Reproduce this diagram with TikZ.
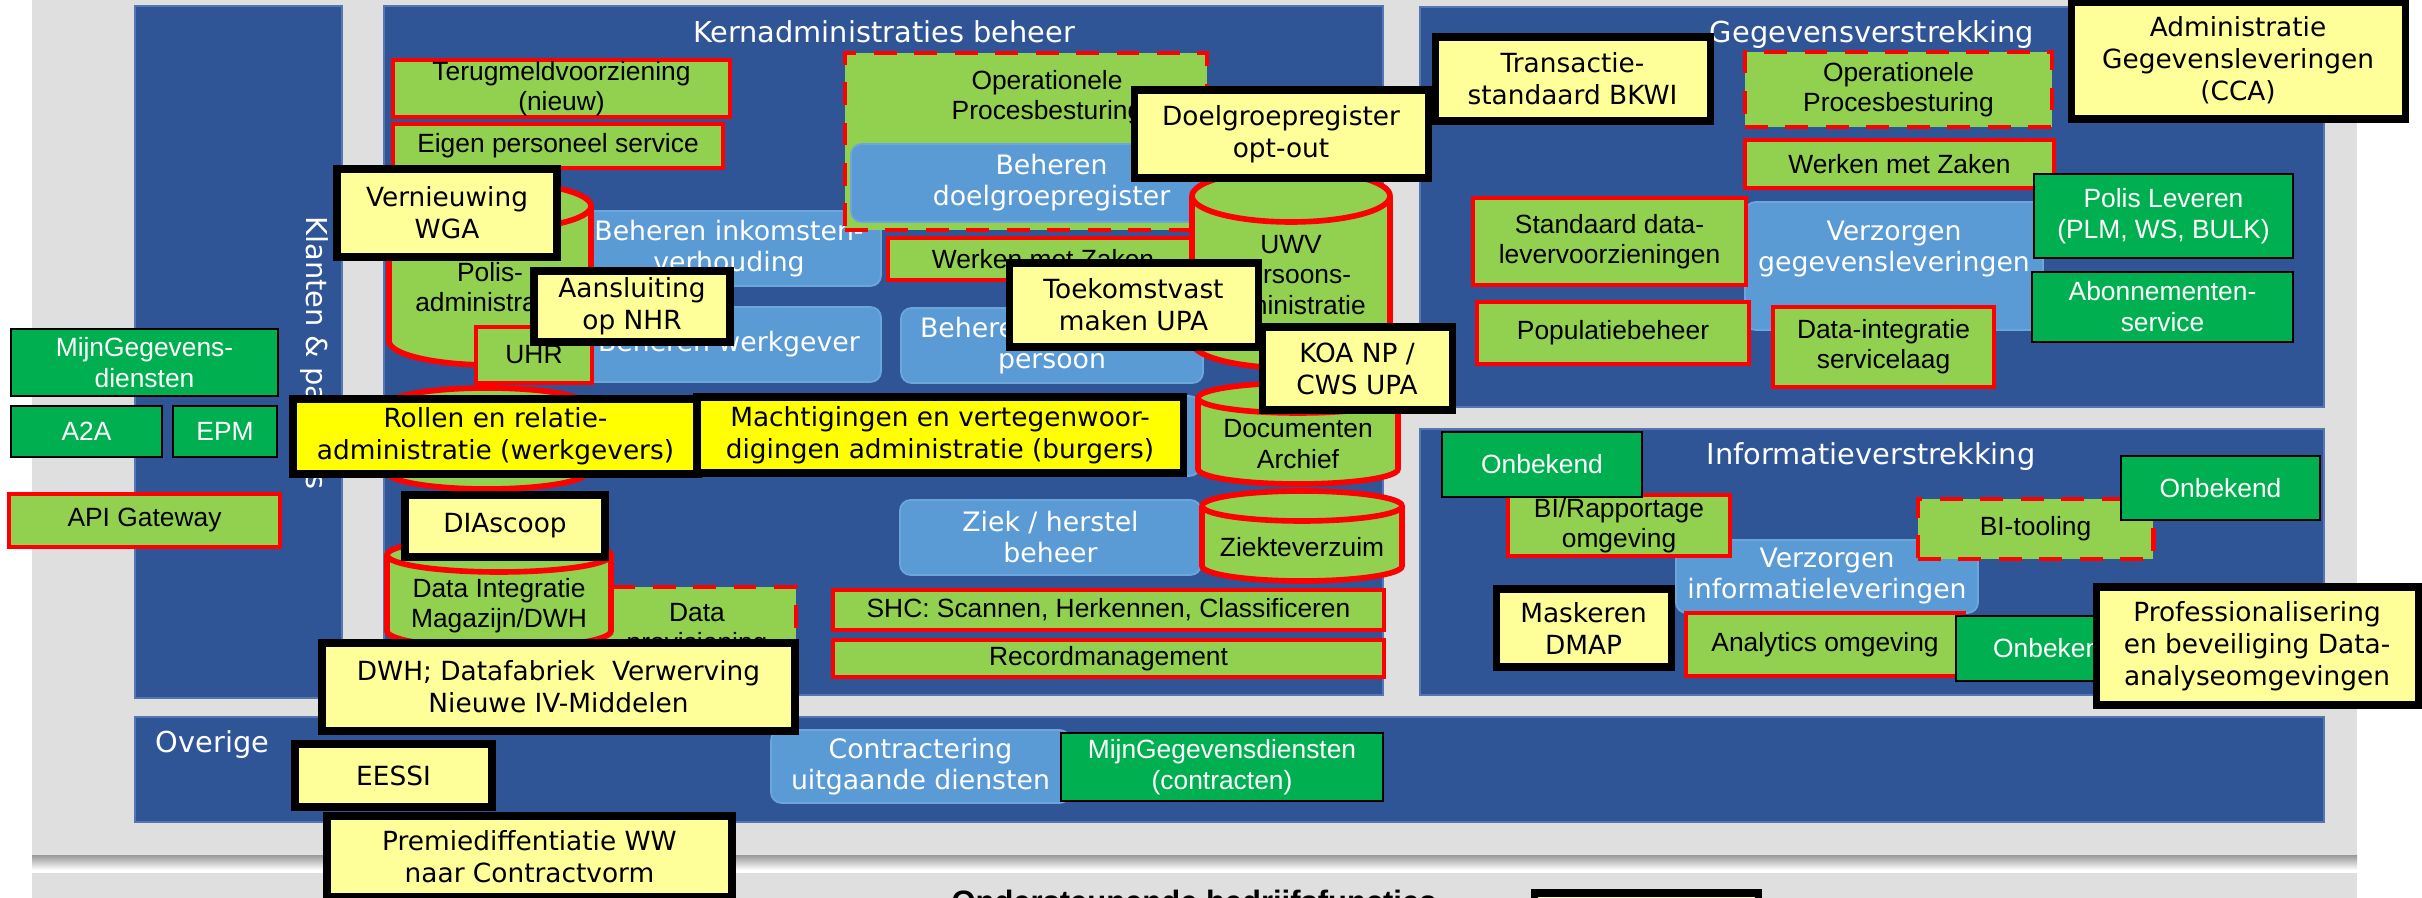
\documentclass[tikz,border=0pt]{standalone}
\usepackage{fontspec}
\newfontfamily\vfont{DejaVu Sans}
\newfontfamily\afont{Liberation Sans}

\definecolor{cGrijs}{HTML}{DFDFDF}
\definecolor{cPaneel}{HTML}{2F5597}
\definecolor{cPaneelrand}{HTML}{5676B3}
\definecolor{cLichtblauw}{HTML}{5B9BD5}
\definecolor{cLichtrand}{HTML}{6CA6DA}
\definecolor{cGroen}{HTML}{92D050}
\definecolor{cDonkergroen}{HTML}{00B050}
\definecolor{cGeel}{HTML}{FFFF99}
\definecolor{cFelgeel}{HTML}{FFFF00}
\definecolor{cRood}{HTML}{FF0000}

\tikzset{
  paneel/.style={fill=cPaneel, draw=cPaneelrand, line width=0.8pt},
  kop/.style={text=white, font=\vfont\fontsize{8.2}{10}\selectfont, inner sep=0pt, anchor=base},
  doos/.style={rectangle, inner sep=0pt, outer sep=0pt, align=center},
  groenblok/.style={doos, fill=cGroen, draw=cRood, line width=1.4pt, font=\afont\fontsize{7.5}{8.6}\selectfont},
  stipblok/.style={groenblok, dash pattern=on 6.5pt off 5pt},
  groentekst/.style={align=center, inner sep=0pt, font=\afont\fontsize{7.5}{8.6}\selectfont},
  donkerblok/.style={doos, fill=cDonkergroen, draw=black, line width=0.4pt, text=white, font=\afont\fontsize{7.5}{8.8}\selectfont},
  blauwblok/.style={doos, rounded corners=3pt, fill=cLichtblauw, draw=cLichtrand, line width=0.5pt, text=white, font=\vfont\fontsize{7.6}{8.8}\selectfont},
  blauwtekst/.style={align=center, inner sep=0pt, text=white, font=\vfont\fontsize{7.6}{8.8}\selectfont},
  geelblok/.style={doos, fill=cGeel, draw=black, line width=2pt, font=\vfont\fontsize{7.5}{9.1}\selectfont},
  felgeelblok/.style={geelblok, fill=cFelgeel},
  cilinderrand/.style={fill=cGroen, draw=cRood, line width=1.6pt},
}

% box from its corners (picture units are pixels)
\newcommand{\blok}[7]{%
  \node[#1, minimum width={(#5-#3)*0.01cm}, minimum height={(#6-#4)*0.01cm}] (#2) at ({(#3+#5)/2},{(#4+#6)/2}) {#7};}

% cylinder: name, x1, y1, x2, y2, ry, text y, text
\newcommand{\cilinder}[8]{%
  \filldraw[cilinderrand] ({#2},{#3+#6}) -- ({#2},{#5-#6})
    arc[start angle=180, end angle=360, x radius={(#4-#2)/2*0.01cm}, y radius={#6*0.01cm}]
    -- ({#4},{#3+#6})
    arc[start angle=0, end angle=180, x radius={(#4-#2)/2*0.01cm}, y radius={#6*0.01cm}] -- cycle;
  \draw[cilinderrand, fill=none] ({#2},{#3+#6})
    arc[start angle=180, end angle=360, x radius={(#4-#2)/2*0.01cm}, y radius={#6*0.01cm}];
  \node[groentekst] (#1) at ({(#2+#4)/2},{#7}) {#8};}

\begin{document}
\begin{tikzpicture}[x=0.01cm, y=-0.01cm]
  \useasboundingbox (0,0) rectangle (2422,898);
  \clip (0,0) rectangle (2422,898);
  \fill[white] (0,0) rectangle (2422,898);

  % achtergrond
  \fill[cGrijs] (32,-20) rectangle (2357,855);
  \shade[top color=black!40, bottom color=white] (32,855) rectangle (2357,870);
  \fill[cGrijs] (32,873) rectangle (2357,960);

  % panelen
  \filldraw[paneel] (135,6) rectangle (342,698);
  \filldraw[paneel] (384,6) rectangle (1383,695);
  \filldraw[paneel] (1420,7) rectangle (2324,407);
  \filldraw[paneel] (1420,429) rectangle (2324,695);
  \filldraw[paneel] (135,717) rectangle (2324,822);

  % koppen
  \node[kop] (kopkern) at (884,43) {Kernadministraties beheer};
  \node[kop] (kopgeg) at (1872,43) {Gegevensverstrekking};
  \node[kop] (kopinfo) at (1871,465) {Informatieverstrekking};
  \node[kop, anchor=base west] (kopoverige) at (155,753) {Overige};
  \node[kop, anchor=center, rotate=-90] (kopklanten) at (314,353) {Klanten \& partners};

  % links buiten de panelen
  \blok{donkerblok}{mijngeg}{11}{329}{278}{396}{MijnGegevens-\\diensten}
  \blok{donkerblok}{atwee}{11}{406}{162}{457}{A2A}
  \blok{donkerblok}{epm}{173}{406}{277}{457}{EPM}
  \blok{groenblok}{api}{9}{494}{280}{547}{API Gateway}

  % kernadministraties beheer
  \blok{blauwblok}{behinkomsten}{577}{211}{881}{286}{Beheren inkomsten-\\verhouding}
  \blok{blauwblok}{behwerkgever}{577}{307}{881}{382}{Beheren werkgever}
  \blok{blauwblok}{behpersoon}{901}{308}{1203}{383}{\makebox[75pt][l]{Beheren}\\persoon}
  \blok{blauwblok}{behverborgen}{901}{396}{1200}{476}{}
  \blok{blauwblok}{ziekherstel}{900}{500}{1201}{575}{Ziek / herstel\\beheer}
  \blok{stipblok}{opbkern}{845}{53}{1207}{230}{}
  \node[groentekst] (opbkerntekst) at (1047,98) {Operationele\\Procesbesturing};
  \blok{blauwblok}{behdoelgroep}{851}{144}{1252}{222}{Beheren\\doelgroepregister}
  \blok{groenblok}{werkenkern}{888}{238}{1198}{280}{Werken met Zaken}
  \blok{groenblok}{terugmeld}{393}{60}{730}{117}{Terugmeldvoorziening\\(nieuw)}
  \blok{groenblok}{eigen}{393}{124}{723}{168}{Eigen personeel service}
  \blok{stipblok}{dataprov}{598}{587}{796}{673}{Data\\provisioning}
  \cilinder{polis}{389}{182}{591}{365}{24}{287}{Polis-\\administratie}
  \cilinder{verborgen}{387}{388}{587}{489}{17}{440}{}
  \cilinder{uwv}{1192}{170}{1390}{368}{26}{275}{UWV\\Persoons-\\administratie}
  \cilinder{documenten}{1198}{383}{1398}{484}{15}{444}{Documenten\\Archief}
  \cilinder{ziekteverzuim}{1202}{491}{1402}{581}{15}{547}{Ziekteverzuim}
  \cilinder{dim}{387}{538}{611}{648}{17}{606}{Data Integratie\\Magazijn/DWH}
  \blok{groenblok}{uhr}{476}{327}{592}{383}{UHR}
  \blok{groenblok}{shc}{833}{590}{1384}{630}{SHC: Scannen, Herkennen, Classificeren}
  \blok{groenblok}{record}{833}{640}{1384}{677}{Recordmanagement}

  % gegevensverstrekking
  \blok{stipblok}{opbgeg}{1745}{52}{2052}{127}{Operationele\\Procesbesturing}
  \blok{groenblok}{werkengeg}{1745}{140}{2054}{188}{Werken met Zaken}
  \blok{blauwblok}{verzorgengeg}{1745}{202}{2043}{330}{}
  \node[blauwtekst] (verzorgengegtekst) at (1894,249) {Verzorgen\\gegevensleveringen};
  \blok{groenblok}{standaard}{1473}{198}{1746}{285}{Standaard data-\\levervoorzieningen}
  \blok{groenblok}{populatie}{1477}{302}{1749}{364}{Populatiebeheer}
  \blok{groenblok}{dataint}{1773}{307}{1994}{387}{Data-integratie\\servicelaag}
  \blok{donkerblok}{polisleveren}{2034}{174}{2293}{258}{Polis Leveren\\(PLM, WS, BULK)}
  \blok{donkerblok}{abonnementen}{2032}{272}{2293}{342}{Abonnementen-\\service}

  % informatieverstrekking
  \blok{blauwblok}{verzorgeninfo}{1676}{540}{1978}{613}{Verzorgen\\informatieleveringen}
  \blok{groenblok}{birapport}{1508}{495}{1730}{556}{BI/Rapportage\\omgeving}
  \blok{donkerblok}{onbekendeen}{1442}{432}{1642}{497}{Onbekend}
  \blok{groenblok}{analytics}{1686}{613}{1964}{676}{Analytics omgeving}
  \blok{donkerblok}{onbekendtwee}{1956}{616}{2152}{681}{Onbekend}
  \blok{stipblok}{bitooling}{1918}{499}{2153}{559}{BI-tooling}
  \blok{donkerblok}{onbekenddrie}{2121}{456}{2320}{520}{Onbekend}

  % overige
  \blok{blauwblok}{contractering}{771}{730}{1070}{803}{Contractering\\uitgaande diensten}
  \blok{donkerblok}{mijngegcontract}{1061}{733}{1383}{801}{MijnGegevensdiensten\\(contracten)}

  % gele projecten
  \blok{geelblok}{vernieuwing}{337}{169}{557}{257}{Vernieuwing\\WGA}
  \blok{geelblok}{aansluiting}{534}{271}{730}{342}{Aansluiting\\op NHR}
  \blok{geelblok}{doelgroepoptout}{1134}{90}{1428}{178}{Doelgroepregister\\opt-out}
  \blok{geelblok}{toekomstvast}{1009}{263}{1258}{347}{Toekomstvast\\maken UPA}
  \blok{geelblok}{koa}{1262}{327}{1452}{410}{KOA NP /\\CWS UPA}
  \blok{felgeelblok}{rollen}{293}{399}{698}{474}{Rollen en relatie-\\administratie (werkgevers)}
  \blok{felgeelblok}{machtigingen}{697}{397}{1183}{473}{Machtigingen en vertegenwoor-\\digingen administratie (burgers)}
  \blok{geelblok}{diascoop}{405}{495}{605}{557}{DIAscoop}
  \blok{geelblok}{dwh}{322}{643}{795}{731}{DWH; Datafabriek~~Verwerving\\Nieuwe IV-Middelen}
  \blok{geelblok}{eessi}{295}{744}{492}{807}{EESSI}
  \blok{geelblok}{premie}{327}{816}{732}{897}{Premiediffentiatie WW\\naar Contractvorm}
  \blok{geelblok}{transactie}{1435}{37}{1710}{121}{Transactie-\\standaard BKWI}
  \blok{geelblok}{cca}{2071}{2}{2405}{119}{Administratie\\Gegevensleveringen\\(CCA)}
  \blok{geelblok}{maskeren}{1496}{589}{1671}{667}{Maskeren\\DMAP}
  \blok{geelblok}{prof}{2096}{587}{2418}{705}{Professionalisering\\en beveiliging Data-\\analyseomgevingen}

  % ondersteunende bedrijfsfuncties
  \node[anchor=base, inner sep=0pt, font=\afont\bfseries\fontsize{8.8}{10}\selectfont] (ondersteunend) at (1194,912) {Ondersteunende bedrijfsfuncties};
  \blok{geelblok}{onderblok}{1534}{893}{1758}{970}{}
\end{tikzpicture}
\end{document}
